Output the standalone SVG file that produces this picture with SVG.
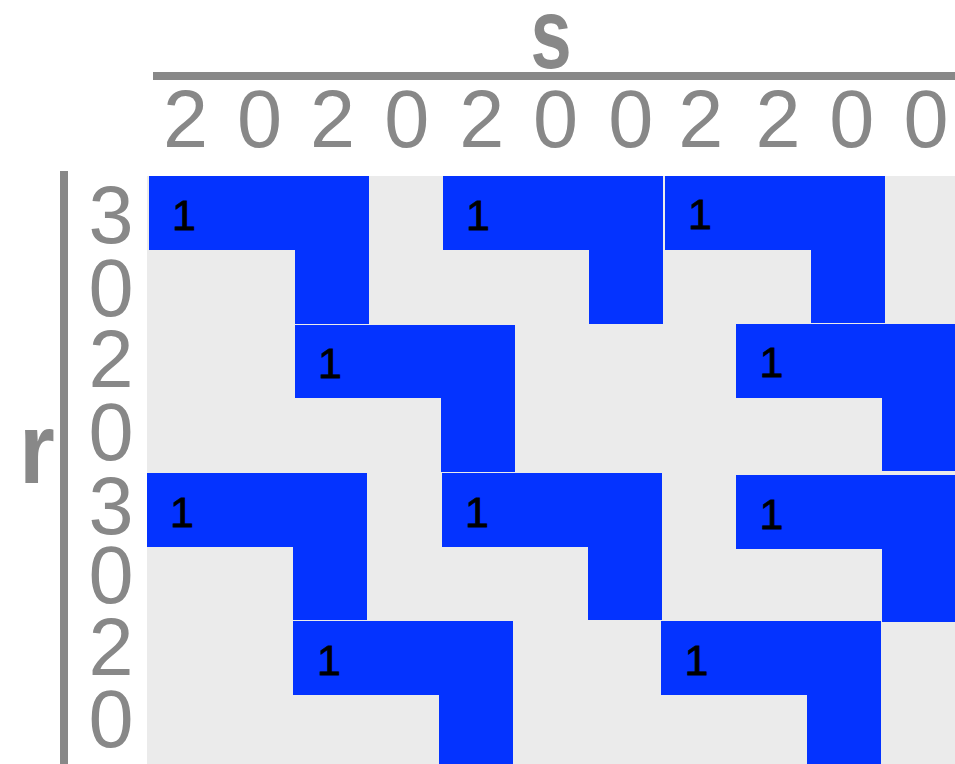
<svg xmlns="http://www.w3.org/2000/svg" width="955" height="764" viewBox="0 0 955 764">
<style>
.ax{fill:#888888;font-family:"Liberation Sans",Arial,sans-serif;font-size:81px;text-anchor:middle}
.lbl{fill:#888888;font-family:"Liberation Sans",Arial,sans-serif;font-size:100px;font-weight:bold;text-anchor:middle}
.blk{fill:#0433ff}
.one{fill:#000000;stroke:#000000;stroke-width:0.8px;font-family:"Liberation Sans",Arial,sans-serif;font-size:43px;text-anchor:middle}
</style>
<rect x="0" y="0" width="955" height="764" fill="#ffffff"/>
<rect id="grid" x="147" y="176" width="808" height="588" fill="#ebebeb"/>
<g id="axes">
<line x1="153" y1="76" x2="955" y2="76" stroke="#888888" stroke-width="8"/>
<line x1="64" y1="171" x2="64" y2="764" stroke="#888888" stroke-width="8"/>
<text class="lbl" transform="translate(551,68) scale(0.74,1)" x="0" y="0">s</text>
<text class="lbl" transform="translate(37,483) scale(0.92,1)" x="0" y="0">r</text>
</g>
<g id="cols">
<text class="ax" x="185.5" y="147">2</text>
<text class="ax" x="259.5" y="147">0</text>
<text class="ax" x="332.5" y="147">2</text>
<text class="ax" x="406.7" y="147">0</text>
<text class="ax" x="481.7" y="147">2</text>
<text class="ax" x="555.5" y="147">0</text>
<text class="ax" x="630.8" y="147">0</text>
<text class="ax" x="700.8" y="147">2</text>
<text class="ax" x="778" y="147">2</text>
<text class="ax" x="851.8" y="147">0</text>
<text class="ax" x="926" y="147">0</text>
</g>
<g id="rows">
<text class="ax" x="111" y="243">3</text>
<text class="ax" x="111" y="316">0</text>
<text class="ax" x="111" y="387">2</text>
<text class="ax" x="111" y="460">0</text>
<text class="ax" x="111" y="534">3</text>
<text class="ax" x="111" y="603">0</text>
<text class="ax" x="111" y="675">2</text>
<text class="ax" x="111" y="747">0</text>
</g>
<g id="shape1"><path class="blk" d="M149,176 H369 V324 H295 V250 H149 Z"/><text class="one" x="184" y="230">1</text></g>
<g id="shape2"><path class="blk" d="M443,176 H663 V324 H589 V250 H443 Z"/><text class="one" x="478" y="230">1</text></g>
<g id="shape3"><path class="blk" d="M665,176 H885 V323 H811 V250 H665 Z"/><text class="one" x="700" y="229">1</text></g>
<g id="shape4"><path class="blk" d="M295,325 H515 V472 H441 V398 H295 Z"/><text class="one" x="330" y="378">1</text></g>
<g id="shape5"><path class="blk" d="M736,324 H955 V471 H882 V398 H736 Z"/><text class="one" x="771.5" y="377">1</text></g>
<g id="shape6"><path class="blk" d="M147,473 H367 V620 H293 V547 H147 Z"/><text class="one" x="182" y="527">1</text></g>
<g id="shape7"><path class="blk" d="M442,473 H662 V620 H588 V547 H442 Z"/><text class="one" x="477" y="527">1</text></g>
<g id="shape8"><path class="blk" d="M736,475 H955 V622 H882 V549 H736 Z"/><text class="one" x="771.5" y="529">1</text></g>
<g id="shape9"><path class="blk" d="M293,621 H513 V764 H439 V695 H293 Z"/><text class="one" x="329" y="675">1</text></g>
<g id="shape10"><path class="blk" d="M661,621 H881 V764 H807 V695 H661 Z"/><text class="one" x="696.5" y="675">1</text></g>
<g id="connectors"></g>
</svg>
